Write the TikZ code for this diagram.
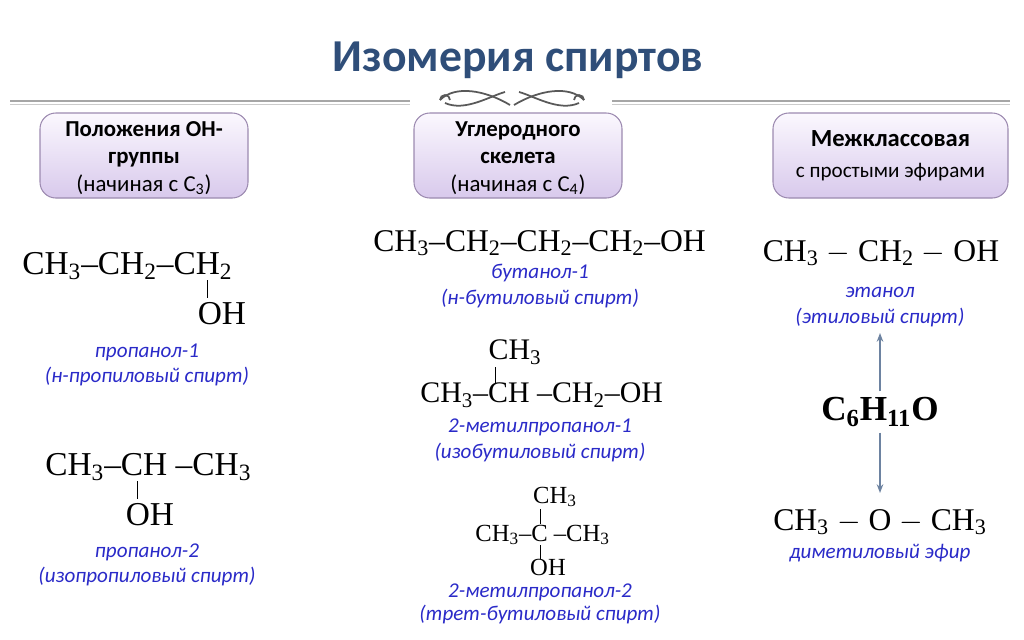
\documentclass[tikz,border=0pt]{standalone}
\usepackage{fontspec}
\setmainfont{Liberation Serif}
\newfontfamily\carl{Carlito}
\usetikzlibrary{arrows.meta}
\definecolor{ttl}{HTML}{2F4E79}
\definecolor{lbl}{HTML}{2A2AC8}
\definecolor{boxtop}{HTML}{FBF8FE}
\definecolor{boxbot}{HTML}{D8C9EC}
\definecolor{boxline}{HTML}{9C8AB0}
\newcommand{\sbs}[1]{\textsubscript{#1}}
\tikzset{
 catbox/.style={rounded corners=9pt, draw=boxline, line width=0.6pt, top color=boxtop, bottom color=boxbot},
 boxtxt/.style={font=\carl\fontsize{13}{15.5}\selectfont, align=center, text=black},
 form/.style={font=\fontsize{19}{21}\selectfont, inner sep=0pt},
 midform/.style={font=\fontsize{17}{19}\selectfont, inner sep=0pt},
 smform/.style={font=\fontsize{14}{16}\selectfont, inner sep=0pt},
 chemname/.style={font=\carl\itshape\fontsize{12}{14}\selectfont, text=lbl, inner sep=0pt},
 bond/.style={line width=0.5pt},
 arr/.style={-{Stealth[length=5pt]}, draw=ttl!70, line width=0.8pt}
}
\begin{document}
\begin{tikzpicture}[x=0.02cm,y=-0.02cm]
\useasboundingbox (0,0) rectangle (1024,639);
\node[font=\carl\bfseries\fontsize{26}{30}\selectfont, text=ttl] (title) at (518,60) {Изомерия спиртов};
% rule and ornament
\draw[gray!70, line width=1pt] (10,101) -- (410,101);
\draw[gray!70, line width=1pt] (612,101) -- (1010,101);
\draw[gray!40, line width=0.5pt] (10,104) -- (410,104);
\draw[gray!40, line width=0.5pt] (612,104) -- (1010,104);
\begin{scope}[gray!70!black, line width=1pt]
\draw (440,100) .. controls (455,85) and (485,90) .. (510,105);
\draw (445,103) .. controls (465,112) and (490,96) .. (505,92);
\draw (584,100) .. controls (569,85) and (539,90) .. (514,105);
\draw (579,103) .. controls (559,112) and (534,96) .. (519,92);
\draw (440,100) arc (180:360:5);
\draw (584,100) arc (0:-180:5);
\end{scope}
% boxes
\node[catbox, minimum width=208*0.02cm, minimum height=85*0.02cm] (b1) at (144,155.5) {};
\node[catbox, minimum width=208*0.02cm, minimum height=85*0.02cm] (b2) at (518,155.5) {};
\node[catbox, minimum width=235*0.02cm, minimum height=85*0.02cm] (b3) at (890.5,155.5) {};
\node[boxtxt] (b1t) at (144,158) {\bfseries Положения ОН-\\ \bfseries группы\\(начиная с С\sbs{3})};
\node[boxtxt] (b2t) at (518,158) {\bfseries Углеродного\\ \bfseries скелета\\(начиная с С\sbs{4})};
\node[boxtxt] (b3t) at (b3) {{\bfseries\fontsize{14}{16}\selectfont Межклассовая}\\[2pt]{\fontsize{12}{14}\selectfont с простыми эфирами}};
% left column
\node[form, anchor=west] (p1) at (22,266) {CH\sbs{3}–CH\sbs{2}–CH\sbs{2}};
\node[form] (p1oh) at (222,314) {OH};
\coordinate (p1a) at (207,280); \coordinate (p1b) at (207,298);
\draw[bond] (p1a) -- (p1b);
\node[chemname] (n1) at (147,352) {пропанол-1};
\node[chemname] (n1b) at (147,376) {(н-пропиловый спирт)};
\node[form, anchor=west] (p2) at (45,467) {CH\sbs{3}–CH –CH\sbs{3}};
\node[form] (p2oh) at (150,515) {OH};
\coordinate (p2a) at (137,481); \coordinate (p2b) at (137,499);
\draw[bond] (p2a) -- (p2b);
\node[chemname] (n2) at (147,552) {пропанол-2};
\node[chemname] (n2b) at (147,576) {(изопропиловый спирт)};
% middle column
\node[midform, font=\fontsize{18}{20}\selectfont, anchor=west] (m1) at (373,243) {CH\sbs{3}–CH\sbs{2}–CH\sbs{2}–CH\sbs{2}–OH};
\node[chemname] (n3) at (540,273) {бутанол-1};
\node[chemname] (n3b) at (540,298) {(н-бутиловый спирт)};
\node[midform] (m2ch3) at (515,352) {CH\sbs{3}};
\node[midform, anchor=west] (m2) at (420,395) {CH\sbs{3}–CH –CH\sbs{2}–OH};
\coordinate (m2a) at (495,367); \coordinate (m2b) at (495,383);
\draw[bond] (m2a) -- (m2b);
\node[chemname] (n4) at (540,427) {2-метилпропанол-1};
\node[chemname] (n4b) at (540,452) {(изобутиловый спирт)};
\node[smform] (m3ch3) at (555,497) {CH\sbs{3}};
\node[smform, anchor=west] (m3) at (475,535) {CH\sbs{3}–C –CH\sbs{3}};
\node[smform] (m3oh) at (548,567) {OH};
\coordinate (m3a) at (540,509); \coordinate (m3b) at (540,524);
\coordinate (m3c) at (540,545); \coordinate (m3d) at (540,559);
\draw[bond] (m3a) -- (m3b) (m3c) -- (m3d);
\node[chemname] (n5) at (540,592) {2-метилпропанол-2};
\node[chemname] (n5b) at (540,614) {(трет-бутиловый спирт)};
% right column
\node[form, font=\fontsize{18}{20}\selectfont] (r1) at (881,253) {CH\sbs{3} $-$ CH\sbs{2} $-$ OH};
\node[chemname] (n6) at (880,292) {этанол};
\node[chemname] (n6b) at (880,317) {(этиловый спирт)};
\node[font=\bfseries\fontsize{20}{22}\selectfont] (mol) at (880,412) {C\sbs{6}H\sbs{11}O};
\draw[arr] (mol.north) -- (880,333);
\draw[arr] (mol.south) -- (880,493);
\node[form, font=\fontsize{18}{20}\selectfont] (r2) at (880,522) {CH\sbs{3} $-$ O $-$ CH\sbs{3}};
\node[chemname] (n7) at (880,553) {диметиловый эфир};
\end{tikzpicture}
\end{document}
